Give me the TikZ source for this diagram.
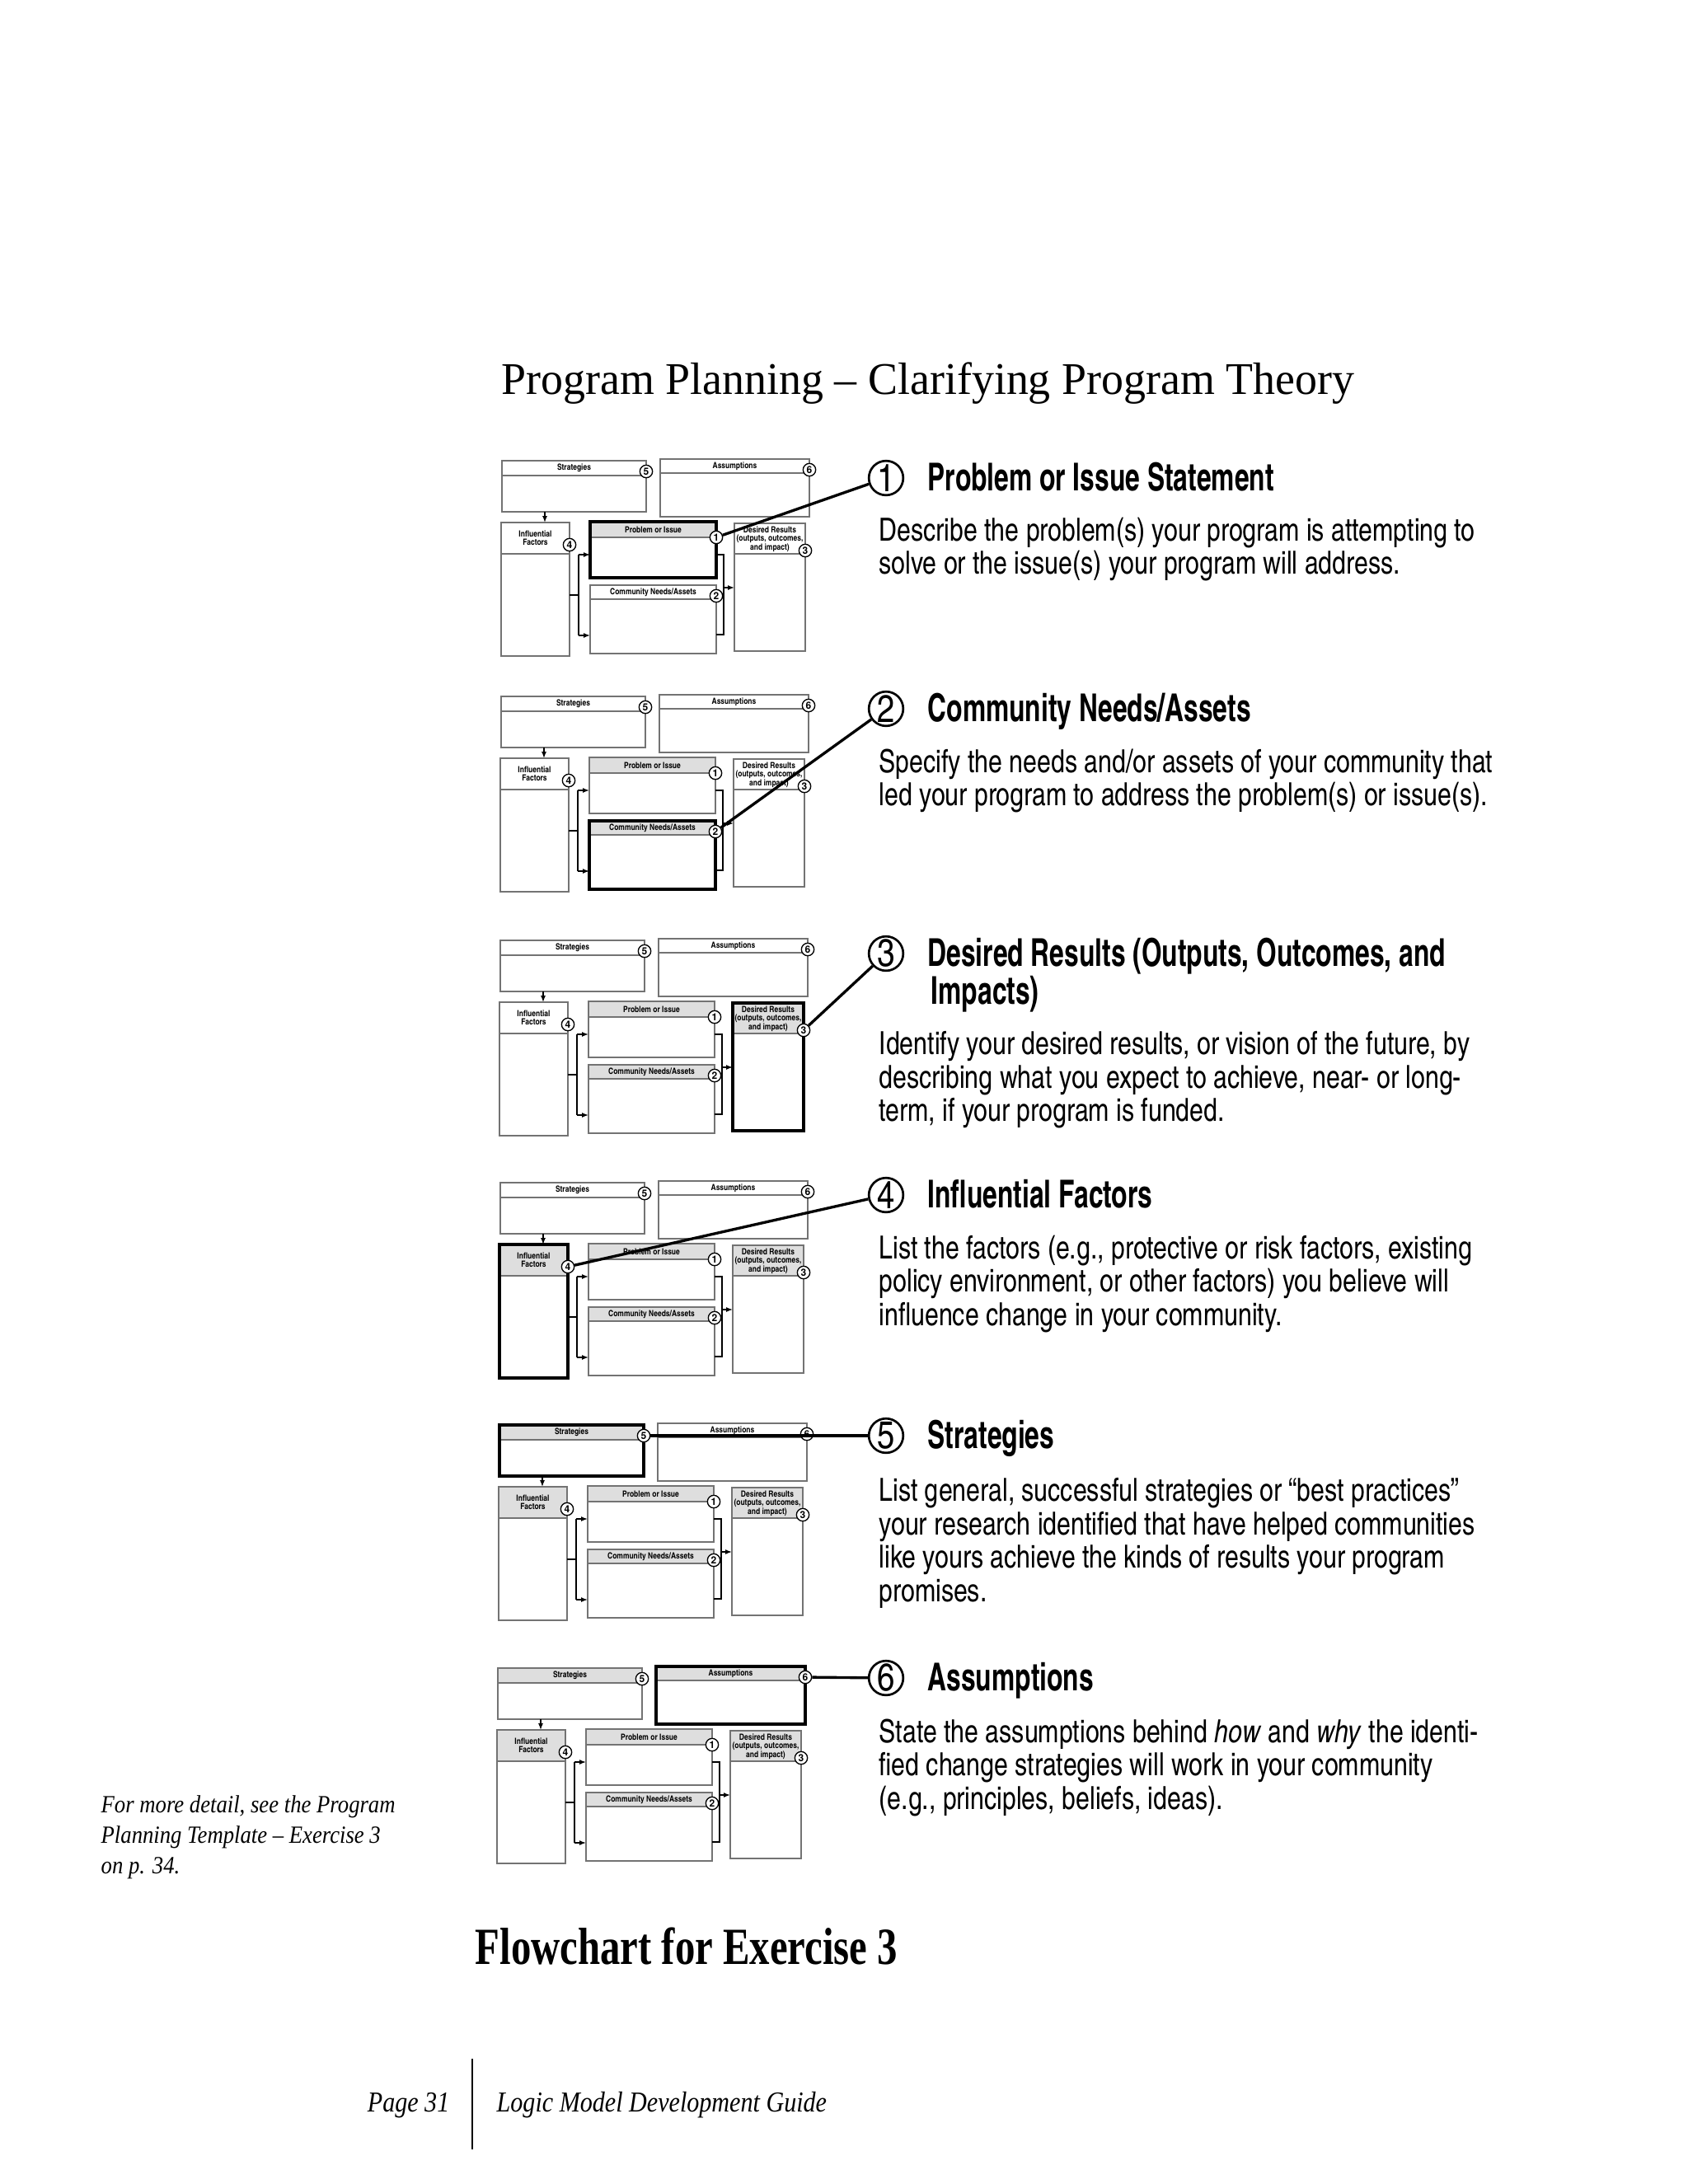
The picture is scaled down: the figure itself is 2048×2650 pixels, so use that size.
\documentclass[tikz,border=0pt]{standalone}
\usepackage{fontspec}
\setmainfont{Liberation Serif}
\newfontfamily\cnd{texgyreheroscn}[Extension=.otf, UprightFont=*-regular, BoldFont=*-bold, ItalicFont=*-italic, BoldItalicFont=*-bolditalic]
\newfontfamily\cndh{texgyreheroscn}[Extension=.otf, UprightFont=*-bold, FakeStretch=0.83]
\newfontfamily\cndd{texgyreheroscn}[Extension=.otf, UprightFont=*-regular, ItalicFont=*-italic, FakeStretch=0.955]
\newfontfamily\hvb{TeX Gyre Heros}
\newfontfamily\ttlfont{Liberation Serif}[FakeStretch=0.98]
\newfontfamily\flowfont{Liberation Serif}[UprightFont={* Bold}, FakeStretch=0.77]
\newfontfamily\notefont{Liberation Serif}[FakeStretch=0.89]
\newfontfamily\footfont{Liberation Serif}[FakeStretch=0.86]
\usetikzlibrary{arrows.meta, fit}

\tikzset{
  x=0.3pt, y=-0.3pt,
  gfill/.style={fill=black!13},
  wfill/.style={fill=white},
  nbox/.style={draw=black!55, line width=0.45pt},
  hlbox/.style={draw=black, line width=1.1pt},
  hS/.style=wfill, hA/.style=wfill, hI/.style=wfill, hP/.style=wfill, hC/.style=wfill, hD/.style=wfill,
  bS/.style=nbox, bA/.style=nbox, bI/.style=nbox, bP/.style=nbox, bC/.style=nbox, bD/.style=nbox,
  mbox/.style={inner sep=0pt, outer sep=0pt, rectangle},
  sepline/.style={draw=black!55, line width=0.45pt},
  mlab/.style={font=\cnd\bfseries\fontsize{3.1}{3.1}\selectfont, inner sep=0pt, align=center},
  mcirc/.style={circle, draw=black, fill=white, line width=0.4pt, minimum size=4.6pt, inner sep=0pt, font=\hvb\bfseries\fontsize{3.6}{3.6}\selectfont},
  mline/.style={draw=black, line width=0.4pt},
  marrow/.style={draw=black, line width=0.4pt, -{Latex[length=2.4pt, width=1.8pt]}},
  bigc/.style={circle, draw=black, line width=0.8pt, minimum size=12.5pt, inner sep=0pt, font=\cnd\fontsize{14}{14}\selectfont},
  callout/.style={draw=black, line width=1pt},
  head/.style={font=\cndh\fontsize{14}{13.8}\selectfont, inner sep=0pt, anchor=base west, align=left},
  desc/.style={font=\cndd\fontsize{11.6}{12.15}\selectfont, inner sep=0pt, anchor=north west, align=left},
}

\newcommand\minidiag[3]{%
\begin{scope}[shift={#2}, name prefix=#1-, #3]
  \fill[hS] (609,559) rectangle (784,577);
  \fill[hA] (801,557) rectangle (982,574);
  \fill[hI] (608,634) rectangle (691,672);
  \fill[hP] (716,633) rectangle (869,652);
  \fill[hC] (716,710) rectangle (869,727);
  \fill[hD] (891,635) rectangle (977,672);
  \draw[sepline] (609,577) -- (784,577) (801,574) -- (982,574) (608,672) -- (691,672)
     (716,652) -- (869,652) (716,727) -- (869,727) (891,672) -- (977,672);
  \node[mbox, bS, fit={(609,559)(784,621)}] (S) {};
  \node[mbox, bA, fit={(801,557)(982,627)}] (A) {};
  \node[mbox, bI, fit={(608,634)(691,796)}] (I) {};
  \node[mbox, bP, fit={(716,633)(869,701)}] (P) {};
  \node[mbox, bC, fit={(716,710)(869,793)}] (C) {};
  \node[mbox, bD, fit={(891,635)(977,790)}] (D) {};
  \node[mlab] (lS) at (696.5,568) {Strategies};
  \node[mlab] (lA) at (891.5,565.5) {Assumptions};
  \node[mlab] (lI) at (649.5,653) {Influential\\Factors};
  \node[mlab] (lP) at (792.5,643) {Problem or Issue};
  \node[mlab] (lC) at (792.5,718.5) {Community Needs/Assets};
  \node[mlab] (lD) at (934,654) {Desired Results\\(outputs, outcomes,\\and impact)};
  \coordinate (sx) at (661,0);
  \coordinate (ja) at (702,722);
  \coordinate (p1) at (702,673);
  \coordinate (p2) at (702,771);
  \coordinate (q1) at (878,673);
  \coordinate (q2) at (878,770);
  \coordinate (jb) at (878,713);
  \draw[marrow] (S.south -| sx) -- (I.north -| sx);
  \draw[mline] (I.east |- ja) -- (ja) (p1) -- (p2);
  \draw[marrow] (p1) -- (P.west |- p1);
  \draw[marrow] (p2) -- (C.west |- p2);
  \draw[mline] (P.east |- q1) -- (q1) -- (q2) -- (C.east |- q2);
  \draw[marrow] (jb) -- (D.west |- jb);
  \node[mcirc] (c5) at (784,572) {5};
  \node[mcirc] (c6) at (982,570) {6};
  \node[mcirc] (c4) at (691,661) {4};
  \node[mcirc] (c1) at (869,652) {1};
  \node[mcirc] (c2) at (869,723) {2};
  \node[mcirc] (c3) at (977,668) {3};
\end{scope}}

\begin{document}
\begin{tikzpicture}
\fill[white] (0,0) rectangle (2048,2650);
\useasboundingbox (0,0) rectangle (2048,2650);

% title
\node[anchor=base west, inner sep=0pt, font=\ttlfont\fontsize{16.5}{18}\selectfont] (title) at (608,478)
  {Program Planning – Clarifying Program Theory};

% mini diagrams
\minidiag{d1}{(0,0)}{hP/.style=gfill, bP/.style=hlbox}
\minidiag{d2}{(-1,286)}{hP/.style=gfill, hC/.style=gfill, bC/.style=hlbox}
\minidiag{d3}{(-2,582)}{hP/.style=gfill, hC/.style=gfill, hD/.style=gfill, bD/.style=hlbox}
\minidiag{d4}{(-2,876)}{hP/.style=gfill, hC/.style=gfill, hD/.style=gfill, hI/.style=gfill, bI/.style=hlbox}
\minidiag{d5}{(-3,1170)}{hP/.style=gfill, hC/.style=gfill, hD/.style=gfill, hI/.style=gfill, hS/.style=gfill, bS/.style=hlbox}
\minidiag{d6}{(-5,1465)}{hP/.style=gfill, hC/.style=gfill, hD/.style=gfill, hI/.style=gfill, hS/.style=gfill, hA/.style=gfill, bA/.style=hlbox}

% section 1
\node[bigc] (b1) at (1075,580) {1};
\node[head] (t1) at (1125,595) {Problem or Issue Statement};
\node[desc] (x1) at (1066,627) {Describe the problem(s) your program is attempting to\\solve or the issue(s) your program will address.};
\draw[callout] (b1) -- (d1-c1);

% section 2
\node[bigc] (b2) at (1075,860) {2};
\node[head] (t2) at (1125,875) {Community Needs/Assets};
\node[desc] (x2) at (1066,908) {Specify the needs and/or assets of your community that\\led your program to address the problem(s) or issue(s).};
\draw[callout] (b2) -- (d2-c2);

% section 3
\node[bigc] (b3) at (1075,1157) {3};
\node[head] (t3) at (1125,1218) {Desired Results (Outputs, Outcomes, and\\\hspace*{1.2pt}Impacts)};
\node[desc] (x3) at (1066,1251) {Identify your desired results, or vision of the future, by\\describing what you expect to achieve, near- or long-\\term, if your program is funded.};
\draw[callout] (b3) -- (d3-c3);

% section 4
\node[bigc] (b4) at (1075,1450) {4};
\node[head] (t4) at (1125,1465) {Influential Factors};
\node[desc] (x4) at (1066,1498) {List the factors (e.g., protective or risk factors, existing\\policy environment, or other factors) you believe will\\influence change in your community.};
\draw[callout] (b4) -- (d4-c4);

% section 5
\node[bigc] (b5) at (1075,1742) {5};
\node[head] (t5) at (1125,1757) {Strategies};
\node[desc] (x5) at (1066,1793) {List general, successful strategies or “best practices”\\your research identified that have helped communities\\like yours achieve the kinds of results your program\\promises.};
\draw[callout] (b5) -- (d5-c5);

% section 6
\node[bigc] (b6) at (1075,2036) {6};
\node[head] (t6) at (1125,2051) {Assumptions};
\node[desc] (x6) at (1066,2085) {State the assumptions behind \textit{how} and \textit{why} the identi-\\fied change strategies will work in your community\\(e.g., principles, beliefs, ideas).};
\draw[callout] (b6) -- (d6-c6);

% side note
\node[anchor=north west, align=left, inner sep=0pt, font=\notefont\itshape\fontsize{9}{11.1}\selectfont] (note) at (122,2178)
  {For more detail, see the Program\\Planning Template – Exercise 3\\on p. 34.};

% bottom title
\node[anchor=base west, inner sep=0pt, font=\flowfont\fontsize{19}{20}\selectfont] (flow) at (576,2383)
  {Flowchart for Exercise 3};

% footer
\node[anchor=base east, inner sep=0pt, font=\footfont\itshape\fontsize{10.5}{12}\selectfont] (pg) at (546,2562) {Page 31};
\node[anchor=base west, inner sep=0pt, font=\footfont\itshape\fontsize{10.5}{12}\selectfont] (guide) at (602,2562) {Logic Model Development Guide};
\coordinate (vt) at (573,2498);
\coordinate (vb) at (573,2608);
\draw[line width=0.6pt] (vt) -- (vb);
\end{tikzpicture}
\end{document}
